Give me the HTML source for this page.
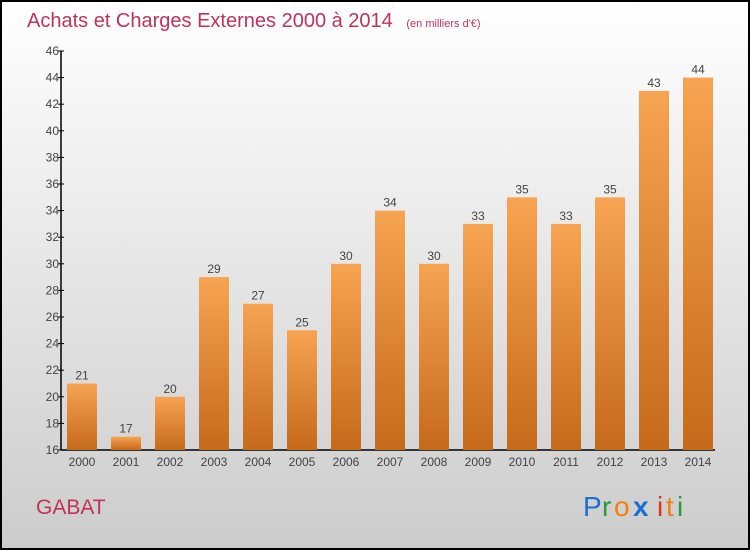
<!DOCTYPE html>
<html><head><meta charset="utf-8"><style>
body{margin:0;width:750px;height:550px;overflow:hidden;font-family:"Liberation Sans",sans-serif}
</style></head><body>
<svg width="750" height="550" xmlns="http://www.w3.org/2000/svg">
<defs>
<linearGradient id="bg" x1="0" y1="0" x2="0" y2="1"><stop offset="0" stop-color="#ffffff"/><stop offset="1" stop-color="#cccccc"/></linearGradient>
<linearGradient id="bar" x1="0" y1="0" x2="0" y2="1"><stop offset="0" stop-color="#f7a452"/><stop offset="1" stop-color="#c56a1b"/></linearGradient>
</defs>
<rect x="1" y="1" width="748" height="548" fill="url(#bg)" stroke="#000" stroke-width="2"/>
<text x="27" y="27" font-size="20" fill="#c0325e">Achats et Charges Externes 2000 à 2014 <tspan font-size="11" dx="8">(en milliers d'€)</tspan></text>
<g id="yaxis"></g>
<g id="bars"></g>
<text x="36" y="514" font-size="21" fill="#c0325e">GABAT</text>
<g font-size="28" font-family="'Liberation Sans',sans-serif">
<text x="583" y="516" fill="#1a6fd0">P</text><text x="602" y="516" fill="#2a9a3a">r</text><text x="614" y="516" fill="#f08010">o</text><text x="633" y="516" fill="#1a6fd0" font-weight="bold">x</text><text x="657" y="516" fill="#e03020">i</text><text x="666" y="516" fill="#f08010">t</text><text x="677" y="516" fill="#2a9a3a">i</text>
</g>
</svg>
<script>
const categories=["2000","2001","2002","2003","2004","2005","2006","2007","2008","2009","2010","2011","2012","2013","2014"];
const values=[21,17,20,29,27,25,30,34,30,33,35,33,35,43,44];
const yTicks=[16,18,20,22,24,26,28,30,32,34,36,38,40,42,44,46];
const NS="http://www.w3.org/2000/svg";
const y0=450,yTop=51,vMin=16,vMax=46,axisX=61;
const y=v=>y0-(v-vMin)*(y0-yTop)/(vMax-vMin);
const x=i=>82+i*44;
function mk(t,a,p){const e=document.createElementNS(NS,t);for(const k in a)e.setAttribute(k,a[k]);p.appendChild(e);return e;}
const ya=document.getElementById('yaxis'),bg=document.getElementById('bars');
let l=mk('line',{x1:axisX,y1:yTop,x2:axisX,y2:y0,stroke:'#000','stroke-width':1.5},ya);


l=mk('line',{x1:axisX,y1:y0,x2:715,y2:y0,stroke:'#000','stroke-width':1.5},ya);


yTicks.forEach(v=>{
 const t=mk('line',{x1:axisX-3,y1:y(v),x2:axisX+3,y2:y(v),stroke:'#000'},ya);
 
 
 const tx=mk('text',{x:axisX-2,y:y(v)+4,'font-size':12,fill:'#444','text-anchor':'end'},ya);
 tx.textContent=v;
 
 
});
categories.forEach((c,i)=>{
 const r=mk('rect',{x:x(i)-15,y:y(values[i]),width:30,height:y0-y(values[i]),fill:'url(#bar)'},bg);
 
 
 const vl=mk('text',{x:x(i),y:y(values[i])-4,'font-size':12,fill:'#444','text-anchor':'middle'},bg);
 vl.textContent=values[i];
 
 
 const xl=mk('text',{x:x(i),y:466,'font-size':12,fill:'#444','text-anchor':'middle'},bg);
 xl.textContent=c;
 
 
});
</script>
</body></html>
